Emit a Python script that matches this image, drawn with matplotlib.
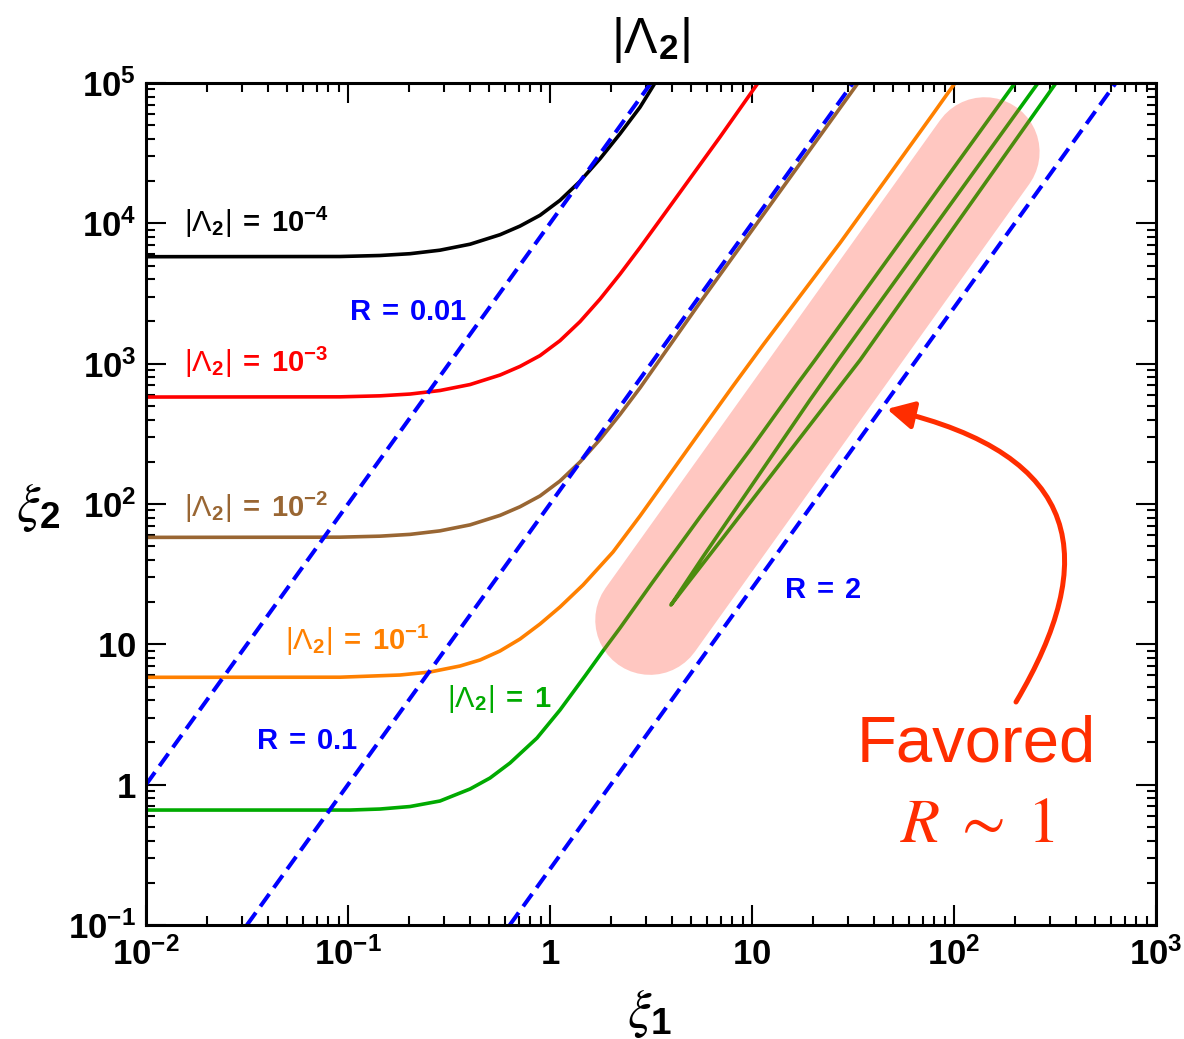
import matplotlib
matplotlib.use('Agg')
import matplotlib.pyplot as plt
from matplotlib.path import Path
from matplotlib.patches import FancyArrowPatch
from matplotlib.ticker import LogLocator, NullFormatter

plt.rcParams['font.family'] = ['Liberation Sans', 'DejaVu Sans']
plt.rcParams['mathtext.fontset'] = 'custom'
plt.rcParams['mathtext.rm'] = 'Liberation Sans'
plt.rcParams['mathtext.bf'] = 'Liberation Sans:bold'
plt.rcParams['mathtext.it'] = 'STIXGeneral:italic'

# ---------------- data ----------------
black_x = [0.0100, 0.0913, 0.144, 0.203, 0.285, 0.402, 0.566, 0.710, 0.892, 1.121, 1.408, 1.768,
           2.221, 2.790, 3.31]
black_y = [5783, 5802, 5899, 6076, 6435, 7100, 8299, 9556, 11410, 14590, 19930, 28830,
           43450, 67220, 100000]

red_x = [0.0100, 0.0913, 0.144, 0.203, 0.285, 0.402, 0.566, 0.710, 0.892, 1.121, 1.408, 1.768,
         2.221, 2.790, 3.504, 4.933, 6.945, 10.71]
red_y = [578.3, 580.2, 589.9, 607.6, 643.5, 710, 829.9, 955.6, 1141, 1459, 1993, 2883,
         4345, 6722, 10560, 20870, 41230, 100000]

brown_x = [0.0100, 0.0913, 0.144, 0.203, 0.285, 0.402, 0.566, 0.710, 0.892, 1.121, 1.408, 1.768,
           2.221, 2.790, 5.529, 17.29, 33.48]
brown_y = [57.83, 58.02, 58.99, 60.76, 64.35, 71.00, 82.99, 95.56, 114.1, 145.9, 199.3, 288.3,
           434.5, 672.2, 2727, 26650, 100000]

orange_x = [0.0100, 0.0913, 0.1809, 0.2545, 0.3584, 0.4503, 0.5655, 0.7104, 0.8923, 1.1207, 1.457,
            2.051, 2.790, 3.928, 5.529, 8.052, 11.34, 17.29, 27.27, 46.58, 78.71, 101.2]
orange_y = [5.821, 5.831, 6.045, 6.350, 7.007, 7.733, 8.964, 10.91, 13.96, 18.45, 26.47,
            45.49, 82.13, 163.6, 325.9, 693.0, 1358, 3035, 7240, 21040, 60140, 100000]

green_x = [0.0100, 0.1023, 0.1440, 0.2027, 0.2853, 0.4018, 0.5046, 0.6339, 0.8622, 1.1207, 1.490,
           1.829, 2.221, 3.199, 5.529, 9.774, 16.90, 20.51, 200.4]
green_y = [0.6594, 0.6594, 0.6705, 0.6985, 0.7648, 0.9312, 1.115, 1.427, 2.150, 3.404, 5.946,
           8.964, 13.07, 27.35, 80.79, 242.5, 728.3, 1062, 100000]

# narrow closed-tip branch of |Lambda_2| = 1
loop_x = [260.6, 26.7, 19.36, 8.43, 5.71, 3.97, 4.76, 6.95, 10.12, 19.36, 34.3, 319.8]
loop_y = [100000, 1062, 551, 95.2, 41.9, 19.06, 26.78, 54.04, 108.9, 365.6, 1062, 100000]

# R = xi1 / sqrt(xi2) reference lines (end points)
R_values = ['0.01', '0.1', '2']
R_x = [[0.0100, 3.162], [0.0316, 31.62], [0.632, 632.0]]
R_y = [[1.0, 100000], [0.1, 100000], [0.1, 100000]]

# favoured band (centre line end points)
band_x = [3.13, 142.0]
band_y = [14.9, 32200]

lam_levels = ['10^{-4}', '10^{-3}', '10^{-2}', '10^{-1}', '1']

xtick_vals = [1e-2, 1e-1, 1, 10, 1e2, 1e3]
xtick_labels = [r'$\mathbf{10^{-2}}$', r'$\mathbf{10^{-1}}$', r'$\mathbf{1}$', r'$\mathbf{10}$',
                r'$\mathbf{10^{2}}$', r'$\mathbf{10^{3}}$']
ytick_vals = [1e-1, 1, 10, 1e2, 1e3, 1e4, 1e5]
ytick_labels = [r'$\mathbf{10^{-1}}$', r'$\mathbf{1}$', r'$\mathbf{10}$', r'$\mathbf{10^{2}}$',
                r'$\mathbf{10^{3}}$', r'$\mathbf{10^{4}}$', r'$\mathbf{10^{5}}$']

# ---------------- figure ----------------
W, H = 1184, 1039
fig = plt.figure(figsize=(W / 100, H / 100), dpi=100)
ax = fig.add_axes([146 / W, 1 - 925 / H, 1010 / W, 842 / H])
ax.set_xscale('log')
ax.set_yscale('log')
ax.set_xlim(1e-2, 1e3)
ax.set_ylim(1e-1, 1e5)


def fp(px, py):
    return (px / W, 1 - py / H)


lw = 2.6
c_black, c_red, c_brown, c_orange, c_green = 'black', '#FF0000', '#996633', '#FF8000', '#00AA00'
c_blue = '#0000FF'

kw = dict(lw=lw, zorder=2, solid_joinstyle='round', solid_capstyle='butt')
ax.plot(black_x, black_y, color=c_black, **kw)
ax.plot(red_x, red_y, color=c_red, **kw)
ax.plot(brown_x, brown_y, color=c_brown, **kw)
ax.plot(orange_x, orange_y, color=c_orange, **kw)
ax.plot(green_x, green_y, color=c_green, **kw)
ax.plot(loop_x, loop_y, color=c_green, **kw)

for rx, ry in zip(R_x, R_y):
    ax.plot(rx, ry, color=c_blue, lw=2.9, dashes=(3.8, 1.9), zorder=2.5)

# favoured band
ax.plot(band_x, band_y, color=(1.0, 0.28, 0.2), alpha=0.3, lw=79, solid_capstyle='round', zorder=3)

# axes styling
for s in ax.spines.values():
    s.set_linewidth(2.2)
ax.xaxis.set_minor_locator(LogLocator(base=10, subs=range(2, 10), numticks=100))
ax.yaxis.set_minor_locator(LogLocator(base=10, subs=range(2, 10), numticks=100))
ax.xaxis.set_minor_formatter(NullFormatter())
ax.yaxis.set_minor_formatter(NullFormatter())
ax.set_xticks(xtick_vals, labels=xtick_labels)
ax.set_yticks(ytick_vals, labels=ytick_labels)
ax.tick_params(which='both', direction='in', top=True, right=True, width=1.5)
ax.tick_params(which='major', length=14.5)
ax.tick_params(which='minor', length=6.5)
ax.tick_params(axis='x', which='major', labelsize=25, pad=9)
ax.tick_params(axis='y', which='major', labelsize=25, pad=7)

# labels on curves
lab_pos = [(256, 222), (256, 362), (256, 507), (357, 640), (499, 699)]
lab_col = [c_black, c_red, c_brown, c_orange, c_green]
for lev, (px, py), col in zip(lam_levels, lab_pos, lab_col):
    s = r'$\mathrm{|\Lambda}_{\mathbf{2}}\mathrm{|}\ \mathbf{=\ ' + lev + r'}$'
    fig.text(*fp(px, py), s, color=col, fontsize=21, ha='center', va='center')

R_pos = [(408, 312), (307, 741), (823, 590)]
for rv, (px, py) in zip(R_values, R_pos):
    fig.text(*fp(px, py), r'$\mathbf{R\ =\ ' + rv + r'}$', color=c_blue, fontsize=21,
             ha='center', va='center')

# title and axis labels
fig.text(*fp(651, 40), r'$\mathrm{|\Lambda}_{\mathbf{2}}\mathrm{|}$', fontsize=36, ha='center', va='center')
fig.text(*fp(38, 508), r'$\xi_{\mathbf{2}}$', fontsize=38, ha='center', va='center')
fig.text(*fp(650, 1013), r'$\xi_{\mathbf{1}}$', fontsize=38, ha='center', va='center')

# annotation
c_ann = '#FF2D00'
fig.text(*fp(976, 745), 'Favored', color=c_ann, fontsize=47, ha='center', va='center')
fig.text(*fp(977, 825), r'$R\;\sim\;1$', color=c_ann, fontsize=46, ha='center', va='center',
         math_fontfamily='stix')

pts = [fp(1016, 702), fp(1100, 560), fp(1085, 455), fp(887, 409)]
path = Path(pts, [Path.MOVETO, Path.CURVE4, Path.CURVE4, Path.CURVE4])
arr = FancyArrowPatch(path=path, arrowstyle='-|>,head_length=0.8,head_width=0.42', mutation_scale=20,
                      color=c_ann, lw=3.6, transform=fig.transFigure, shrinkA=0, shrinkB=0, zorder=5)
fig.add_artist(arr)

fig.savefig('out.png', dpi=100)
